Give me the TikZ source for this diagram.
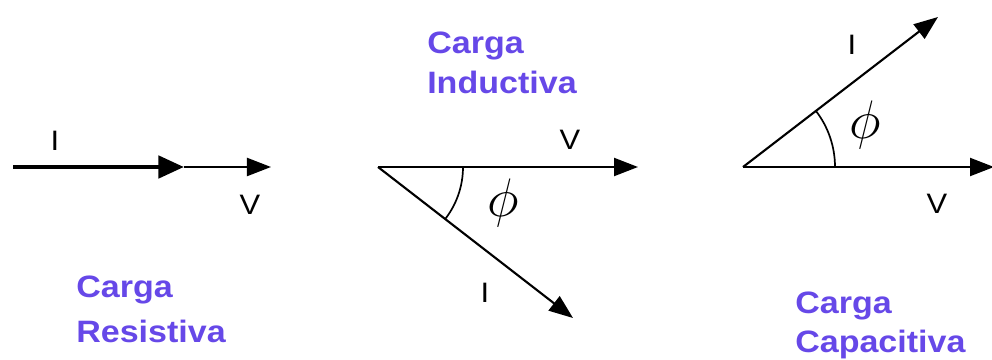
\documentclass[tikz,border=0pt]{standalone}
\usepackage{fontspec}
\setmainfont{Liberation Sans}
\newfontfamily\cargafont[FakeStretch=1.1]{Liberation Sans}
\usepackage{tikz}
\usetikzlibrary{arrows.meta, positioning}
\definecolor{cargacol}{RGB}{102,72,232}

\tikzset{
    vec/.style={line width=1.5pt, -{Triangle[length=0.6cm, width=0.45cm]}},
    vecthick/.style={line width=3.4pt, -{Triangle[length=0.64cm, width=0.55cm]}},
    carga/.style={text=cargacol, font=\cargafont\fontsize{22}{26}\selectfont\bfseries, inner sep=0pt, anchor=base west},
    lbl/.style={font=\cargafont\fontsize{20}{22}\selectfont, inner sep=0pt},
    ang/.style={line width=1.2pt},
    phi/.style={font=\Huge, inner sep=0pt}
}

\begin{document}
\begin{tikzpicture}[x=0.025cm, y=-0.025cm]
    \useasboundingbox (0,0) rectangle (992,360);

    % Carga resistiva
    \coordinate (rA) at (13,167);
    \coordinate (rB) at (184,167);
    \coordinate (rC) at (271,167);
    \draw[vec] (rB) -- (rC);
    \draw[vecthick] (rA) -- (rB);
    \node[lbl] (rI) at (55,141) {I};
    \node[lbl] (rV) at (250,205) {V};
    \node[carga] (rT1) at (76,297) {Carga};
    \node[carga] (rT2) at (76,342) {Resistiva};

    % Carga inductiva
    \coordinate (mO) at (378,167);
    \coordinate (mV) at (638,167);
    \coordinate (mI) at (573,318);
    \draw[vec] (mO) -- (mV);
    \draw[vec] (mO) -- (mI);
    \draw[ang] (mO) ++(85,0) arc[start angle=0, end angle=37.8, radius=85];
    \node[phi] (mPhi) at (503,203) {\scalebox{1.55}{$\phi$}};
    \node[lbl] (mVl) at (570,140) {V};
    \node[lbl] (mIl) at (485,293) {I};
    \node[carga] (mT1) at (427,54) {Carga};
    \node[carga] (mT2) at (427,94) {Inductiva};

    % Carga capacitiva
    \coordinate (cO) at (743,167);
    \coordinate (cV) at (994,167);
    \coordinate (cI) at (938,17);
    \draw[vec] (cO) -- (cV);
    \draw[vec] (cO) -- (cI);
    \draw[ang] (cO) ++(92,0) arc[start angle=0, end angle=-37.7, radius=92];
    \node[phi] (cPhi) at (865,125) {\scalebox{1.55}{$\phi$}};
    \node[lbl] (cIl) at (852,45) {I};
    \node[lbl] (cVl) at (937,204) {V};
    \node[carga] (cT1) at (795,313) {Carga};
    \node[carga] (cT2) at (795,352) {Capacitiva};
\end{tikzpicture}
\end{document}
